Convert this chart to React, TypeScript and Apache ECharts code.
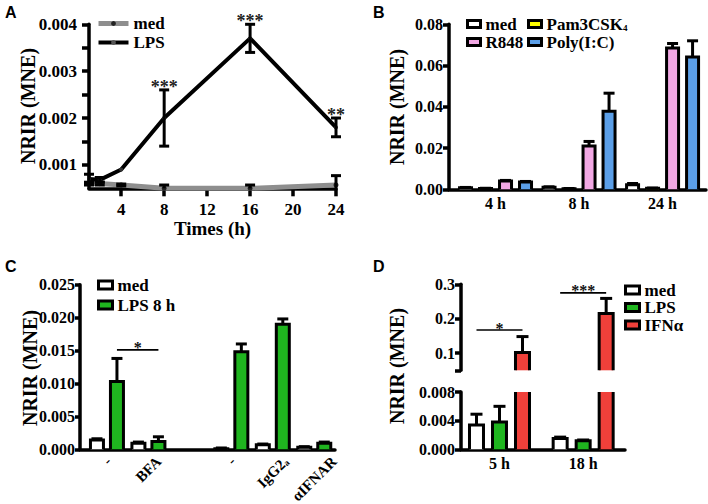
import React, { useEffect, useRef } from "react";
import * as echarts from "echarts";

// ---------- Panel A: time course ----------
const timesA = [1, 2, 4, 8, 16, 24];
const medA = [0.0006, 0.0006, 0.00057, 0.0005, 0.0005, 0.00057];
const medErrA = [0.00003, 0.00003, 0.00002, 0.00007, 0.00007, 0.0002];
const lpsA = [0.0007, 0.00068, 0.0009, 0.002, 0.0037, 0.0018];
const lpsErrA = [0.0001, 0.00005, 0, 0.0006, 0.0003, 0.0002];
const xTicksA = [4, 8, 12, 16, 20, 24];
const yTicksA = [0.001, 0.002, 0.003, 0.004];
const yMinorTicksA = [0.0015, 0.0025, 0.0035];
const starIdxA = [3, 4, 5];
const starLabelsA = ["***", "***", "**"];

// ---------- Panel B: TLR ligands ----------
const catsB = ["4 h", "8 h", "24 h"];
const medB = [0.0007, 0.001, 0.0022];
const medErrB = [0.0002, 0.0002, 0.0006];
const pamB = [0.0004, 0.0003, 0.0005];
const pamErrB = [0.0001, 0.0001, 0.0001];
const r848B = [0.004, 0.021, 0.0685];
const r848ErrB = [0.0003, 0.0022, 0.0022];
const polyB = [0.0035, 0.0378, 0.0642];
const polyErrB = [0.0003, 0.0088, 0.0078];

// ---------- Panel C: inhibitors ----------
const catsC = ["-", "BFA", "", "-", "IgG2a", "\u03b1IFNAR"];
const medC = [0.0014, 0.0009, null, 0.0001, 0.0007, 0.0003];
const medErrC = [0.0002, 0.0002, null, 0.0001, 0.0001, 0.0001];
const lpsC = [0.0103, 0.0012, null, 0.0148, 0.019, 0.0009];
const lpsErrC = [0.0035, 0.0007, null, 0.0012, 0.0008, 0.0002];
const sigC = [[0, 1, 1, 1, 0.0151]];
const sigLabelsC = ["*"];

// ---------- Panel D: IFNα ----------
const catsD = ["5 h", "18 h"];
const medD = [0.0034, 0.0015];
const medErrD = [0.0015, 0.0002];
const lpsD = [0.0038, 0.0012];
const lpsErrD = [0.0022, 0.0001];
const ifnD = [0.102, 0.215];
const ifnErrD = [0.046, 0.044];
const sigD = [
  [0, 0, 0, 2, 0.167],
  [1, 0, 1, 2, 0.275],
];
const sigLabelsD = ["*", "***"];

const FONT = '"Times New Roman", "Liberation Serif", serif';
const SANS = '"Liberation Sans", Arial, Helvetica, sans-serif';

let measureCtx: CanvasRenderingContext2D | null = null;
function measure(text: string, font: string): number {
  if (!measureCtx) measureCtx = document.createElement("canvas").getContext("2d");
  if (!measureCtx) return text.length * 8;
  measureCtx.font = font;
  return measureCtx.measureText(text).width;
}

const seg = (x1: number, y1: number, x2: number, y2: number, w = 3) => ({
  type: "line",
  shape: { x1, y1, x2, y2 },
  style: { stroke: "#000", lineWidth: w },
});

function barSeries(
  name: string,
  color: string,
  axisIdx: number,
  values: (number | null)[],
  errs: (number | null)[],
  slot: number,
  nSlots: number,
  barW: number,
  pitch: number,
  capW: number
) {
  const data: number[][] = [];
  values.forEach((v, i) => {
    if (v !== null) data.push([i, v, (errs[i] as number) || 0]);
  });
  return {
    type: "custom",
    name,
    xAxisIndex: axisIdx,
    yAxisIndex: axisIdx,
    coordinateSystem: "cartesian2d",
    itemStyle: { color },
    encode: { x: 0, y: 1 },
    data,
    z: 3,
    clip: false,
    renderItem: (params: any, api: any) => {
      const g = api.value(0);
      const v = api.value(1);
      const e = api.value(2);
      const cs = params.coordSys;
      const p = api.coord([g, v]);
      const b = api.coord([g, 0]);
      const cx = p[0] + (slot - (nSlots - 1) / 2) * pitch;
      const gTop = cs.y;
      const gBot = cs.y + cs.height;
      const cutTop = p[1] < gTop;
      const yT = Math.max(p[1], gTop);
      const yB = Math.min(b[1], gBot);
      if (yB - yT <= 0.2) return null;
      const x0 = cx - barW / 2;
      const x1 = cx + barW / 2;
      const children: any[] = [
        {
          type: "rect",
          shape: { x: x0, y: yT, width: barW, height: yB - yT },
          style: { fill: color },
        },
      ];
      if (cutTop) {
        children.push(seg(x0, yB, x0, yT), seg(x1, yB, x1, yT));
      } else {
        children.push({
          type: "polyline",
          shape: {
            points: [
              [x0, yB],
              [x0, yT],
              [x1, yT],
              [x1, yB],
            ],
          },
          style: { stroke: "#000", lineWidth: 3, fill: null, lineJoin: "miter" },
        });
        if (e > 0) {
          const ye = Math.max(api.coord([g, v + e])[1], gTop);
          children.push(seg(cx, yT, cx, ye), seg(cx - capW / 2, ye, cx + capW / 2, ye));
        }
      }
      return { type: "group", children };
    },
  };
}

function sigSeries(axisIdx: number, rows: number[][], labels: string[], nSlots: number, pitch: number, fs: number) {
  return {
    type: "custom",
    xAxisIndex: axisIdx,
    yAxisIndex: axisIdx,
    coordinateSystem: "cartesian2d",
    encode: { x: 0, y: 4 },
    data: rows,
    z: 4,
    silent: true,
    renderItem: (params: any, api: any) => {
      const g1 = api.value(0);
      const s1 = api.value(1);
      const g2 = api.value(2);
      const s2 = api.value(3);
      const y = api.value(4);
      const p1 = api.coord([g1, y]);
      const p2 = api.coord([g2, y]);
      const x1 = p1[0] + (s1 - (nSlots - 1) / 2) * pitch;
      const x2 = p2[0] + (s2 - (nSlots - 1) / 2) * pitch;
      return {
        type: "group",
        children: [
          seg(x1, p1[1], x2, p1[1], 1.6),
          {
            type: "text",
            style: {
              text: labels[params.dataIndex],
              x: (x1 + x2) / 2,
              y: p1[1] - 2,
              textAlign: "center",
              textVerticalAlign: "middle",
              font: `bold ${fs}px ${FONT}`,
              fill: "#111",
            },
          },
        ],
      };
    },
  };
}

function errSeriesA(values: number[], errs: number[]) {
  return {
    type: "custom",
    xAxisIndex: 0,
    yAxisIndex: 0,
    coordinateSystem: "cartesian2d",
    encode: { x: 0, y: 1 },
    data: timesA.map((t, i) => [t, values[i], errs[i]]),
    z: 5,
    silent: true,
    renderItem: (params: any, api: any) => {
      const t = api.value(0);
      const v = api.value(1);
      const e = api.value(2);
      if (!(e > 0)) return null;
      const cs = params.coordSys;
      const hi = api.coord([t, v + e]);
      const lo = api.coord([t, v - e]);
      const gTop = cs.y;
      const gBot = cs.y + cs.height;
      const yHi = Math.max(hi[1], gTop);
      const yLo = Math.min(lo[1], gBot);
      const x = hi[0];
      const ch: any[] = [seg(x, yHi, x, yLo, 3)];
      if (hi[1] >= gTop) ch.push(seg(x - 5, yHi, x + 5, yHi, 3));
      if (lo[1] <= gBot) ch.push(seg(x - 5, yLo, x + 5, yLo, 3));
      return { type: "group", children: ch };
    },
  };
}

const boldText = (fs: number) => ({
  fontFamily: FONT,
  fontWeight: "bold",
  fontSize: fs,
  color: "#000",
});

const axisLineStyle = { show: true, onZero: false, lineStyle: { color: "#000", width: 3.5 } };

// rotated (45°) category labels for panel C, centred under each group
function rotatedLabelSeries(axisIdx: number, cats: string[], fs: number) {
  const f = `bold ${fs}px ${FONT}`;
  const fSub = `bold 9px ${FONT}`;
  return {
    type: "custom",
    xAxisIndex: axisIdx,
    yAxisIndex: axisIdx,
    coordinateSystem: "cartesian2d",
    encode: { x: 0, y: 1 },
    data: cats.map((c, i) => [i, 0, c ? 1 : 0]).filter((d) => d[2] === 1),
    silent: true,
    z: 5,
    renderItem: (params: any, api: any) => {
      const i = api.value(0);
      const p = api.coord([i, 0]);
      const label = cats[i];
      let text = label;
      let L = measure(label, f);
      if (label === "IgG2a") {
        text = "{n|IgG2}{s|a}";
        L = measure("IgG2", f) + measure("a", fSub);
      }
      const cy = p[1] + 6 + 0.354 * (L + 0.7 * fs);
      return {
        type: "text",
        x: p[0],
        y: cy,
        rotation: Math.PI / 4,
        style: {
          text,
          x: 0,
          y: 0,
          font: f,
          fill: "#000",
          textAlign: "center",
          textVerticalAlign: "middle",
          rich: {
            n: { fontFamily: FONT, fontWeight: "bold", fontSize: fs, fill: "#000" },
            s: { fontFamily: FONT, fontWeight: "bold", fontSize: 9, fill: "#000", verticalAlign: "bottom" },
          },
        },
      };
    },
  };
}

function buildOption(): any {
  const nameMap: Record<string, string> = {};
  const reg = (id: string, label: string) => {
    nameMap[id] = label;
    return id;
  };

  const series: any[] = [];

  // A
  series.push({
    type: "line",
    name: reg("A:med", "med"),
    xAxisIndex: 0,
    yAxisIndex: 0,
    data: timesA.map((t, i) => [t, medA[i]]),
    lineStyle: { color: "#8e8e8e", width: 5 },
    itemStyle: { color: "#222" },
    symbol: "circle",
    symbolSize: 5,
    z: 3,
  });
  series.push({
    type: "line",
    name: reg("A:LPS", "LPS"),
    xAxisIndex: 0,
    yAxisIndex: 0,
    data: timesA.map((t, i) => [t, lpsA[i]]),
    lineStyle: { color: "#000", width: 4 },
    itemStyle: { color: "#333" },
    symbol: "circle",
    symbolSize: 4,
    z: 4,
  });
  series.push(errSeriesA(medA, medErrA));
  series.push(errSeriesA(lpsA, lpsErrA));
  series.push({
    type: "custom",
    xAxisIndex: 0,
    yAxisIndex: 0,
    coordinateSystem: "cartesian2d",
    encode: { x: 0, y: 1 },
    data: starIdxA.map((i) => [timesA[i], lpsA[i] + lpsErrA[i]]),
    silent: true,
    z: 6,
    renderItem: (params: any, api: any) => {
      const p = api.coord([api.value(0), api.value(1)]);
      return {
        type: "text",
        style: {
          text: starLabelsA[params.dataIndex],
          x: p[0],
          y: p[1] - 3,
          textAlign: "center",
          textVerticalAlign: "middle",
          font: `bold 18px ${FONT}`,
          fill: "#222",
        },
      };
    },
  });

  // B
  const bDefs = [
    ["B:med", "med", "#ffffff", medB, medErrB],
    ["B:pam", "Pam3CSK4", "#ffff00", pamB, pamErrB],
    ["B:r848", "R848", "#f2a8e4", r848B, r848ErrB],
    ["B:poly", "Poly(I:C)", "#5b9fe8", polyB, polyErrB],
  ] as any[];
  bDefs.forEach((d, k) => {
    series.push(barSeries(reg(d[0], d[1]), d[2], 1, d[3], d[4], k, 4, 12, 20, 11));
  });

  // C
  series.push(barSeries(reg("C:med", "med"), "#ffffff", 2, medC, medErrC, 0, 2, 13, 20, 11));
  series.push(barSeries(reg("C:lps", "LPS 8 h"), "#1fb51f", 2, lpsC, lpsErrC, 1, 2, 13, 20, 11));
  series.push(sigSeries(2, sigC, sigLabelsC, 2, 20, 16));
  series.push(rotatedLabelSeries(2, catsC, 15));

  // D (upper = axis 3, lower = axis 4)
  const dDefs = [
    ["D:med", "med", "#ffffff", medD, medErrD],
    ["D:lps", "LPS", "#1fb51f", lpsD, lpsErrD],
    ["D:ifn", "IFN\u03b1", "#f0403a", ifnD, ifnErrD],
  ] as any[];
  dDefs.forEach((d, k) => {
    series.push(barSeries(reg(d[0], d[1]), d[2], 4, d[3], d[4], k, 3, 14, 23, 12));
  });
  dDefs.forEach((d, k) => {
    series.push(barSeries(d[0], d[2], 3, d[3], d[4], k, 3, 14, 23, 12));
  });
  series.push(sigSeries(3, sigD, sigLabelsD, 3, 23, 16));

  const legendBase = (data: string[], left: number, top: number, iw: number, ih: number, gap: number) => ({
    data,
    orient: "vertical",
    left,
    top,
    padding: 0,
    itemGap: gap,
    itemWidth: iw,
    itemHeight: ih,
    selectedMode: false,
    icon: "rect",
    itemStyle: { borderColor: "#000", borderWidth: 3 },
    formatter: (n: string) =>
      nameMap[n] === "Pam3CSK4" ? "{n|Pam3CSK}{s|4}" : `{n|${nameMap[n] || n}}`,
    textStyle: {
      ...boldText(17),
      lineHeight: 17,
      rich: {
        n: { ...boldText(17), lineHeight: 17 },
        s: { ...boldText(9), lineHeight: 17, verticalAlign: "bottom" },
      },
    },
  });

  const legendA: any = {
    data: [
      {
        name: "A:med",
        itemStyle: { color: "#222" },
        lineStyle: { color: "#8e8e8e", width: 5 },
      },
      {
        name: "A:LPS",
        itemStyle: { color: "#555" },
        lineStyle: { color: "#000", width: 4 },
      },
    ],
    orient: "vertical",
    left: 96,
    top: 15,
    padding: 0,
    itemGap: 2,
    itemWidth: 30,
    itemHeight: 6,
    selectedMode: false,
    formatter: (n: string) => nameMap[n],
    textStyle: { ...boldText(17), lineHeight: 17 },
  };

  const catLabel = (cats: string[], fs: number, margin: number) => ({
    ...boldText(fs),
    margin,
    customValues: cats.map((c, i) => (c ? i : -99)).filter((i) => i >= 0),
    formatter: (v: number) => cats[Math.round(v)],
  });

  const yTick = (len: number, customValues?: number[]) => ({
    show: true,
    length: len,
    lineStyle: { color: "#000", width: 3.5 },
    ...(customValues ? { customValues } : {}),
  });

  const gridBase = { containLabel: false, outerBoundsMode: "none" };

  return {
    animation: false,
    backgroundColor: "#ffffff",
    textStyle: { fontFamily: FONT },
    grid: [
      { ...gridBase, left: 89, top: 24.3, width: 247, height: 164 },
      { ...gridBase, left: 449, top: 24.3, width: 257, height: 165 },
      { ...gridBase, left: 80, top: 284.7, width: 255, height: 164.6 },
      { ...gridBase, left: 461, top: 284.3, width: 164, height: 86 },
      { ...gridBase, left: 461, top: 392, width: 164, height: 57.3 },
    ],
    xAxis: [
      {
        type: "value",
        gridIndex: 0,
        min: 1,
        max: 24,
        axisLine: axisLineStyle,
        axisTick: { show: true, length: 8, lineStyle: { color: "#000", width: 3.5 }, customValues: xTicksA },
        axisLabel: { ...boldText(17), margin: 13, customValues: xTicksA },
        splitLine: { show: false },
        name: "Times (h)",
        nameLocation: "middle",
        nameGap: 23,
        nameTextStyle: boldText(19),
      },
      {
        type: "value",
        gridIndex: 1,
        min: -0.557,
        max: 2.52,
        axisLine: axisLineStyle,
        axisTick: { show: false },
        axisLabel: catLabel(catsB, 16, 6),
        splitLine: { show: false },
      },
      {
        type: "value",
        gridIndex: 2,
        min: -0.65,
        max: 5.5,
        axisLine: axisLineStyle,
        axisTick: { show: false },
        axisLabel: { show: false },
        splitLine: { show: false },
      },
      {
        type: "value",
        gridIndex: 3,
        min: -0.46,
        max: 1.5,
        show: false,
        splitLine: { show: false },
      },
      {
        type: "value",
        gridIndex: 4,
        min: -0.46,
        max: 1.5,
        axisLine: axisLineStyle,
        axisTick: { show: false },
        axisLabel: catLabel(catsD, 16, 6),
        splitLine: { show: false },
      },
    ],
    yAxis: [
      {
        type: "value",
        gridIndex: 0,
        min: 0.0005,
        max: 0.004,
        axisLine: axisLineStyle,
        axisTick: yTick(7, [...yTicksA, ...yMinorTicksA]),
        axisLabel: { ...boldText(17), margin: 12, customValues: yTicksA, formatter: (v: number) => v.toFixed(3) },
        splitLine: { show: false },
      },
      {
        type: "value",
        gridIndex: 1,
        min: 0,
        max: 0.08,
        interval: 0.02,
        axisLine: axisLineStyle,
        axisTick: yTick(6),
        axisLabel: { ...boldText(16), margin: 6, formatter: (v: number) => v.toFixed(2) },
        splitLine: { show: false },
      },
      {
        type: "value",
        gridIndex: 2,
        min: 0,
        max: 0.025,
        interval: 0.005,
        axisLine: axisLineStyle,
        axisTick: yTick(5),
        axisLabel: { ...boldText(16), margin: 5, formatter: (v: number) => v.toFixed(3) },
        splitLine: { show: false },
      },
      {
        type: "value",
        gridIndex: 3,
        min: 0.05,
        max: 0.3,
        axisLine: axisLineStyle,
        axisTick: yTick(6, [0.05, 0.1, 0.2, 0.3]),
        axisLabel: { ...boldText(16), margin: 6, customValues: [0.1, 0.2, 0.3], formatter: (v: number) => v.toFixed(1) },
        splitLine: { show: false },
      },
      {
        type: "value",
        gridIndex: 4,
        min: 0,
        max: 0.008,
        interval: 0.004,
        axisLine: axisLineStyle,
        axisTick: yTick(6),
        axisLabel: { ...boldText(16), margin: 6, formatter: (v: number) => v.toFixed(3) },
        splitLine: { show: false },
      },
    ],
    legend: [
      legendA,
      legendBase(["B:med", "B:r848"], 466, 15.5, 13, 7, 1),
      legendBase(["B:pam", "B:poly"], 527, 15.5, 13, 7, 1),
      legendBase(["C:med", "C:lps"], 97, 276.5, 14, 8, 3),
      legendBase(["D:med", "D:lps", "D:ifn"], 624, 281.5, 14, 8, 0.5),
    ],
    graphic: [
      { type: "text", x: 5, y: 4, style: { text: "A", font: `bold 16px ${SANS}`, fill: "#000" } },
      { type: "text", x: 373, y: 4, style: { text: "B", font: `bold 16px ${SANS}`, fill: "#000" } },
      { type: "text", x: 5, y: 258, style: { text: "C", font: `bold 16px ${SANS}`, fill: "#000" } },
      { type: "text", x: 373, y: 258, style: { text: "D", font: `bold 16px ${SANS}`, fill: "#000" } },
      ...[
        [28, 106],
        [397, 107],
        [30, 368],
        [397, 366],
      ].map(([x, y]) => ({
        type: "text",
        x,
        y,
        rotation: Math.PI / 2,
        style: {
          text: "NRIR (MNE)",
          x: 0,
          y: 0,
          textAlign: "center",
          textVerticalAlign: "middle",
          font: `bold 20px ${FONT}`,
          fill: "#000",
        },
      })),
    ],
    series,
  };
}

export default function App() {
  const ref = useRef<HTMLDivElement>(null);
  useEffect(() => {
    const chart = echarts.init(ref.current as HTMLDivElement, undefined, { renderer: "svg" });
    chart.setOption(buildOption());
    return () => chart.dispose();
  }, []);
  return (
    <div
      ref={ref}
      style={{ position: "absolute", left: 0, top: 0, width: 708, height: 504, background: "#fff" }}
    />
  );
}
